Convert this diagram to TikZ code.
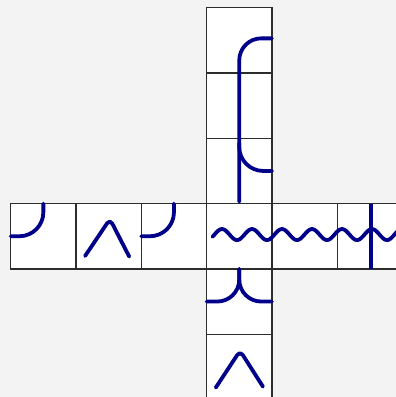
\documentclass[tikz,border=0pt]{standalone}
\usetikzlibrary{positioning}
\definecolor{bg}{RGB}{242,243,242}
\definecolor{ink}{RGB}{0,0,139}
\definecolor{gridline}{RGB}{45,45,45}

\begin{document}
\begin{tikzpicture}[x=1pt, y=-1pt,
        node distance=0pt,
        cell/.style={
            draw=gridline,
            fill=white,
            line width=1.2pt,
            minimum width=65.3pt,
            minimum height=65.3pt,
            inner sep=0pt,
            outer sep=0pt
        },
        wire/.style={
            draw=ink,
            line width=3.8pt,
            line cap=round,
            line join=round
        }
    ]

    % Background and frame of the picture
    \fill[bg] (0,0) rectangle (396,397);
    \useasboundingbox (0,0) rectangle (396,397);

    % Centre tile
    \node[cell, anchor=north west] (mid) at (206.6,203.6) {};

    % Column (above and below the centre)
    \node[cell, above=of mid] (up1) {};
    \node[cell, above=of up1] (up2) {};
    \node[cell, above=of up2] (up3) {};
    \node[cell, below=of mid] (down1) {};
    \node[cell, below=of down1] (down2) {};

    % Row (left and right of the centre)
    \node[cell, left=of mid] (left1) {};
    \node[cell, left=of left1] (left2) {};
    \node[cell, left=of left2] (left3) {};
    \node[cell, right=of mid] (right1) {};
    \node[cell, right=of right1] (right2) {};

    % Long bracket through the column
    \draw[wire, rounded corners=22pt]
        ([yshift=2pt]up3.east) -- ([yshift=2pt]up3.center) -- ([yshift=2pt]mid.north);
    \draw[wire, rounded corners=24pt]
        ([shift={(0,-28)}]up1.center) -- (up1.center) -- (up1.east);

    % Bends in the row
    \draw[wire, rounded corners=24pt]
        (left3.west) -- (left3.center) -- (left3.north);
    \draw[wire, rounded corners=24pt]
        (left1.west) -- (left1.center) -- (left1.north);

    % Peaks
    \draw[wire, rounded corners=5pt]
        ([shift={(-23.6,19.8)}]left2.center) -- ([shift={(1.3,-17.2)}]left2.center)
        -- ([shift={(20.6,20.4)}]left2.center);
    \draw[wire, rounded corners=5pt]
        ([shift={(-23.5,20.8)}]down2.center) -- ([shift={(0.8,-16.2)}]down2.center)
        -- ([shift={(23.7,19.8)}]down2.center);

    % Cusp below the centre
    \draw[wire, rounded corners=22pt]
        (down1.west) -- (down1.center) -- (down1.north);
    \draw[wire, rounded corners=22pt]
        (down1.east) -- (down1.center) -- (down1.north);

    % Wave along the row
    \draw[wire, shift={(mid.west)}]
        plot[domain=5.9:192, samples=160] (\x, {-1.7-5.5*cos(12*(\x-15.4))});

    % Bar across the last tile
    \draw[wire, line cap=butt] ([xshift=1pt]right2.north) -- ([xshift=1pt]right2.south);
\end{tikzpicture}
\end{document}
